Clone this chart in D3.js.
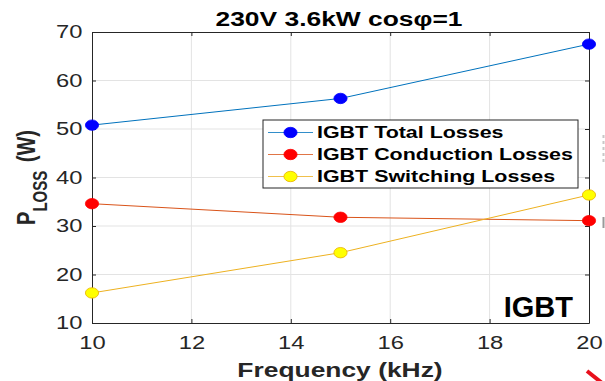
<html>
<meta charset="utf-8" />
<head>
<title>IGBT losses vs frequency</title>
<script src="https://cdn.jsdelivr.net/npm/d3@7" type="text/javascript"></script>
<style>
	body { margin: 0; background: #fff; }
	text { font-family: "Liberation Sans", Arial, sans-serif; }
</style>
<script>

// data
let freq = [10, 15, 20];                  // kHz
let totalLoss = [50.8, 56.3, 67.5];       // W
let condLoss = [34.6, 31.8, 31.1];        // W
let swLoss = [16.2, 24.5, 36.4];          // W

let xTicks = [10, 12, 14, 16, 18, 20];
let yTicks = [10, 20, 30, 40, 50, 60, 70];

let seriesNames = ['IGBT Total Losses', 'IGBT Conduction Losses', 'IGBT Switching Losses'];
let lineColors = ['#0072BD', '#D95319', '#EDB120'];
let markerFill = ['#0000FF', '#FF0000', '#FFFF00'];
let markerEdge = ['#0000FF', '#FF0000', '#E8B000'];

window.onload = function() {
	// the picture is stretched sideways, so text gets scaled in x
	let sx = 1.32;

	let svg = d3.select('svg');
	let left = 92, right = 589, top = 32, bottom = 323;

	let x = d3.scaleLinear().domain([10, 20]).range([left, right]);
	let y = d3.scaleLinear().domain([10, 70]).range([bottom, top]);

	// grid
	svg.append('g').selectAll('line')
		.data(xTicks.slice(1, -1))
		.enter().append('line')
		.attr('x1', d => x(d)).attr('x2', d => x(d))
		.attr('y1', top).attr('y2', bottom)
		.style('stroke', '#e3e3e3').style('stroke-width', '1px');
	svg.append('g').selectAll('line')
		.data(yTicks.slice(1, -1))
		.enter().append('line')
		.attr('y1', d => y(d)).attr('y2', d => y(d))
		.attr('x1', left).attr('x2', right)
		.style('stroke', '#e3e3e3').style('stroke-width', '1px');

	// axes, ticks point inward
	svg.append('g')
		.attr('transform', 'translate(0,' + bottom + ')')
		.call(d3.axisBottom(x).tickValues(xTicks).tickSizeInner(-4).tickSizeOuter(0).tickPadding(13));
	svg.append('g')
		.attr('transform', 'translate(' + left + ',0)')
		.call(d3.axisLeft(y).tickValues(yTicks).tickSizeInner(-4).tickSizeOuter(0).tickPadding(7.3));
	svg.append('g')
		.attr('transform', 'translate(0,' + top + ')')
		.call(d3.axisTop(x).tickValues(xTicks).tickSizeInner(-4).tickSizeOuter(0).tickFormat(''));
	svg.append('g')
		.attr('transform', 'translate(' + right + ',0)')
		.call(d3.axisRight(y).tickValues(yTicks).tickSizeInner(-4).tickSizeOuter(0).tickFormat(''));

	svg.selectAll('.domain, .tick line').style('stroke', '#262626').style('stroke-width', '1px');
	svg.selectAll('.tick text')
		.style('font-family', '"Liberation Sans", Arial, sans-serif')
		.style('font-size', '18px')
		.style('fill', '#262626')
		.attr('transform', 'scale(' + sx + ',1)');

	// lines + markers
	let allSeries = [totalLoss, condLoss, swLoss];
	let line = d3.line().x((d, i) => x(freq[i])).y(d => y(d));

	allSeries.forEach(function(vals, k) {
		svg.append('path')
			.datum(vals)
			.attr('d', line)
			.style('fill', 'none')
			.style('stroke', lineColors[k])
			.style('stroke-width', '1px');
		svg.append('g').selectAll('ellipse')
			.data(vals)
			.enter().append('ellipse')
			.attr('cx', (d, i) => x(freq[i]))
			.attr('cy', d => y(d))
			.attr('rx', 6.6).attr('ry', 5.2)
			.style('fill', markerFill[k])
			.style('stroke', markerEdge[k])
			.style('stroke-width', '0.8px');
	});

	// legend
	let lg = svg.append('g');
	lg.append('rect')
		.attr('x', 263).attr('y', 120).attr('width', 315).attr('height', 68)
		.style('fill', '#fff').style('stroke', '#262626').style('stroke-width', '1px');
	let rows = lg.selectAll('g.row')
		.data(seriesNames)
		.enter().append('g')
		.attr('class', 'row')
		.attr('transform', (d, i) => 'translate(0,' + (132.5 + i * 22) + ')');
	rows.append('line')
		.attr('x1', 268).attr('x2', 313).attr('y1', 0).attr('y2', 0)
		.style('stroke', (d, i) => lineColors[i]).style('stroke-width', '1px').style('opacity', 0.8);
	rows.append('ellipse')
		.attr('cx', 290.5).attr('cy', 0).attr('rx', 6.6).attr('ry', 5.2)
		.style('fill', (d, i) => markerFill[i])
		.style('stroke', (d, i) => markerEdge[i]).style('stroke-width', '0.8px');
	rows.append('text')
		.attr('transform', 'translate(317,0) scale(1.34,1)')
		.attr('dy', '0.36em')
		.style('font-size', '16px').style('font-weight', 'bold').style('fill', '#000')
		.text(d => d);

	// title
	svg.append('text')
		.attr('transform', 'translate(339,25.5) scale(' + sx + ',1)')
		.attr('text-anchor', 'middle')
		.style('font-size', '20px').style('font-weight', 'bold').style('fill', '#000')
		.text('230V 3.6kW cosφ=1');

	// x label
	svg.append('text')
		.attr('transform', 'translate(340,377) scale(' + sx + ',1)')
		.attr('text-anchor', 'middle')
		.style('font-size', '20px').style('font-weight', 'bold').style('fill', '#262626')
		.text('Frequency (kHz)');

	// y label with subscript
	let yl = svg.append('text')
		.attr('transform', 'translate(35,177.5) scale(' + sx + ',1) rotate(-90)')
		.attr('text-anchor', 'middle')
		.style('font-size', '20px').style('font-weight', 'bold').style('fill', '#262626');
	yl.append('tspan').text('P');
	yl.append('tspan').attr('dy', 9).style('font-size', '15px').text('LOSS');
	yl.append('tspan').attr('dy', -9).attr('dx', 3).text(' (W)');

	// label inside the plot
	svg.append('text')
		.attr('x', 573).attr('y', 316.5)
		.attr('text-anchor', 'end')
		.style('font-size', '29px').style('font-weight', 'bold').style('fill', '#000')
		.text('IGBT');

	// bits of the neighbouring figure cut off at the right edge
	svg.append('line')
		.attr('x1', 587).attr('y1', 371).attr('x2', 607).attr('y2', 387)
		.style('stroke', '#e8101c').style('stroke-width', '4px');
	svg.append('line')
		.attr('x1', 603.5).attr('y1', 135).attr('x2', 603.5).attr('y2', 163)
		.style('stroke', '#c8c8c8').style('stroke-width', '2px').style('stroke-dasharray', '3,3');
	svg.append('line')
		.attr('x1', 603.5).attr('y1', 217).attr('x2', 603.5).attr('y2', 228)
		.style('stroke', '#9a9a9a').style('stroke-width', '2px');
}

</script>
</head>
<body>
	<svg width="605" height="381" style="display:block;"></svg>
</body>
</html>
